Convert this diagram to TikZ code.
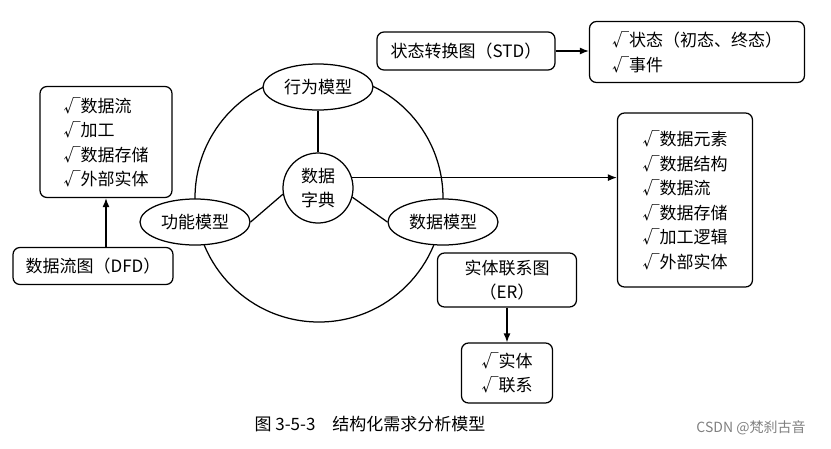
\documentclass[tikz,border=0pt]{standalone}
\usepackage{fontspec}
\setmainfont{Noto Sans CJK SC}
\usetikzlibrary{arrows.meta, positioning, shapes.geometric}

\begin{document}
\begin{tikzpicture}[
        x=1pt, y=-1pt,
        line width=1.25pt,
        txt/.style={font=\fontsize{17}{24.5}\selectfont},
        box/.style={rectangle, rounded corners=7pt, draw, fill=white, align=center,
                    inner sep=3pt, txt},
        listbox/.style={box, align=left},
        model/.style={ellipse, draw, fill=white, minimum width=110pt,
                      minimum height=46pt, inner sep=1pt, txt},
        arr/.style={-{Latex[length=9pt, width=7pt]}},
      ]
      \useasboundingbox (0,0) rectangle (831,448);

      % the ring of three models round the dictionary
      \node[circle, draw, minimum size=248pt] (ring) at (319,198) {};
      \node[circle, draw, fill=white, minimum size=70pt, inner sep=0pt, align=center, txt]
        (dict) at (318,188) {数据\\字典};
      \node[model] (behav) at (318,87) {行为模型};
      \node[model] (func) at (195,222) {功能模型};
      \node[model] (data) at (443,222) {数据模型};
      \draw (behav) -- (dict);
      \draw (func.east) -- (dict.190);
      \draw (dict.345) -- (data.west);

      % functional model
      \node[listbox, minimum width=132pt, minimum height=111pt] (flist) at (106,142)
        {√数据流\\√加工\\√数据存储\\√外部实体};
      \node[box, minimum width=160pt, minimum height=37pt] (dfd) at (93,266)
        {数据流图（DFD）};
      \draw[arr] (flist.south |- dfd.north) -- (flist.south);

      % behaviour model
      \node[box, minimum width=178pt, minimum height=38pt] (std) at (466,51)
        {状态转换图（STD）};
      \node[listbox, minimum width=215pt, minimum height=61pt] (slist) at (697,52)
        {√状态（初态、终态）\\√事件};
      \draw[arr] (std.east) -- (std.east -| slist.west);

      % data dictionary
      \node[listbox, minimum width=135pt, minimum height=174pt] (dlist) at (685,200)
        {√数据元素\\√数据结构\\√数据流\\√数据存储\\√加工逻辑\\√外部实体};
      \draw[arr] (dict.17) -- (dict.17 -| dlist.west);

      % data model
      \node[box, minimum width=139pt, minimum height=54pt] (er) at (507,280)
        {实体联系图\\（ER）};
      \node[listbox, minimum width=91pt, minimum height=60pt] (elist) at (507,373)
        {√实体\\√联系};
      \draw[arr] (er) -- (elist);

      \node[font=\fontsize{17}{20}\selectfont] (cap) at (370,424)
        {图 3-5-3\quad 结构化需求分析模型};
      \node[gray, font=\fontsize{14}{16}\selectfont] (mark) at (751,428)
        {CSDN @梵刹古音};
    \end{tikzpicture}
\end{document}
